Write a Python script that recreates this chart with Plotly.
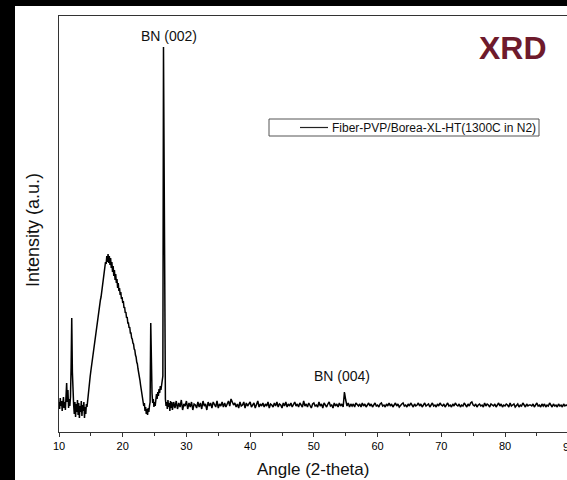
import numpy as np
import plotly.graph_objects as go

# ---- data: XRD scan (counts, arbitrary units) ----
# Segment A: 10.0 - 27.9 deg, step 0.1 (one row per degree)
seg_a_start = 10.0
seg_a_step = 0.1
seg_a_rows = [
    [300, 230, 340, 260, 310, 210, 280, 350, 240, 300],   # 10
    [220, 330, 490, 300, 420, 240, 330, 260, 350, 650],   # 11
    [1140, 600, 330, 270, 180, 300, 150, 280, 200, 320],  # 12
    [170, 290, 140, 260, 200, 310, 160, 270, 210, 300],   # 13
    [140, 250, 180, 280, 250, 330, 410, 460, 520, 560],   # 14
    [610, 660, 700, 760, 800, 850, 900, 940, 1000, 1040], # 15
    [1090, 1130, 1180, 1230, 1260, 1320, 1350, 1410, 1450, 1500],  # 16
    [1540, 1600, 1640, 1700, 1680, 1760, 1700, 1780, 1690, 1760],  # 17
    [1670, 1740, 1640, 1700, 1600, 1660, 1560, 1620, 1520, 1580],  # 18
    [1490, 1530, 1440, 1490, 1410, 1440, 1370, 1400, 1330, 1350],  # 19
    [1290, 1310, 1240, 1250, 1190, 1200, 1140, 1150, 1090, 1090],  # 20
    [1040, 1050, 990, 990, 940, 930, 890, 880, 830, 820],          # 21
    [770, 750, 700, 680, 630, 600, 560, 520, 470, 430],            # 22
    [390, 340, 310, 260, 290, 210, 250, 180, 230, 170],            # 23
    [240, 200, 260, 300, 1090, 480, 390, 290, 330, 250],           # 24
    [300, 260, 340, 380, 330, 400, 360, 430, 390, 460],            # 25
    [420, 470, 500, 560, 3850, 2470, 700, 330, 260, 300],          # 26
    [230, 320, 250, 290, 210, 310, 240, 300, 220, 290],            # 27
]
# Segment B: 28.0 - 90.0 deg, step 0.2 (one row per 2 degrees)
seg_b_start = 28.0
seg_b_step = 0.2
seg_b_rows = [
    [300, 240, 310, 230, 290, 250, 320, 220, 280, 260],  # 28
    [310, 230, 290, 250, 300, 220, 280, 270, 240, 300],  # 30
    [250, 290, 230, 310, 260, 280, 220, 300, 260, 290],  # 32
    [240, 300, 270, 250, 310, 240, 280, 260, 300, 250],  # 34
    [290, 250, 280, 310, 260, 330, 300, 270, 290, 250],  # 36
    [280, 240, 300, 260, 270, 300, 240, 290, 260, 280],  # 38
    [300, 250, 270, 290, 240, 280, 310, 250, 280, 260],  # 40
    [290, 250, 280, 260, 300, 240, 280, 270, 250, 290],  # 42
    [260, 300, 250, 280, 270, 240, 290, 260, 300, 250],  # 44
    [280, 260, 290, 250, 270, 300, 260, 280, 250, 290],  # 46
    [270, 250, 310, 260, 280, 250, 290, 270, 240, 280],  # 48
    [290, 260, 270, 250, 300, 260, 280, 240, 290, 270],  # 50
    [250, 280, 300, 260, 270, 240, 290, 260, 280, 250],  # 52
    [290, 260, 280, 250, 400, 320, 260, 290, 250, 280],  # 54
    [260, 280, 250, 290, 270, 260, 280, 250, 290, 260],  # 56
    [280, 250, 270, 290, 260, 280, 250, 270, 290, 260],  # 58
    [270, 250, 280, 290, 260, 270, 250, 280, 260, 290],  # 60
    [260, 280, 250, 270, 290, 260, 280, 250, 270, 280],  # 62
    [290, 260, 270, 250, 280, 260, 290, 270, 250, 280],  # 64
    [260, 270, 290, 260, 280, 250, 270, 290, 260, 270],  # 66
    [280, 250, 270, 290, 260, 270, 250, 280, 260, 290],  # 68
    [270, 260, 280, 250, 270, 290, 260, 270, 250, 280],  # 70
    [260, 290, 270, 260, 280, 250, 270, 260, 290, 270],  # 72
    [250, 280, 260, 290, 300, 270, 260, 280, 250, 270],  # 74
    [280, 260, 270, 250, 290, 260, 280, 270, 250, 280],  # 76
    [270, 260, 280, 250, 270, 290, 260, 280, 250, 270],  # 78
    [260, 280, 270, 250, 290, 260, 270, 280, 250, 270],  # 80
    [280, 250, 270, 260, 290, 270, 250, 280, 260, 270],  # 82
    [270, 260, 280, 250, 270, 290, 260, 270, 250, 280],  # 84
    [260, 280, 250, 270, 260, 290, 270, 250, 280, 260],  # 86
    [270, 250, 280, 260, 270, 250, 280, 260, 270, 260],  # 88
    [260],                                               # 90
]

series_name = "Fiber-PVP/Borea-XL-HT(1300C in N2)"
x_tick_vals = [10, 20, 30, 40, 50, 60, 70, 80, 90]
x_range = [10, 89.73]
y_range = [0, 4160]

# ---- assemble ----
ya = [v for row in seg_a_rows for v in row]
yb = [v for row in seg_b_rows for v in row]
xa = [round(seg_a_start + seg_a_step * i, 2) for i in range(len(ya))]
xb = [round(seg_b_start + seg_b_step * i, 2) for i in range(len(yb))]
angle = xa + xb
counts = ya + yb

FONT = "Arial, 'Liberation Sans', sans-serif"

fig = go.Figure()
fig.add_trace(go.Scatter(x=angle, y=counts, mode="lines", name=series_name,
                         line=dict(color="#000000", width=1.5), showlegend=False))

L, R, T, B = 59, 0, 16, 48
W, H = 567, 480
pw, ph = W - L - R, H - T - B

def px(xp):
    return (xp - L) / pw

def py(yp):
    return (H - B - yp) / ph

fig.update_layout(
    template="none",
    width=W, height=H,
    margin=dict(l=L, r=R, t=T, b=B, pad=0),
    paper_bgcolor="white", plot_bgcolor="white",
    font=dict(family=FONT, color="#111"),
    xaxis=dict(range=x_range, tickvals=x_tick_vals, ticks="outside", ticklen=4,
               tickwidth=1, tickcolor="#333", showline=True, linecolor="#333",
               linewidth=1, mirror=True, showgrid=False, zeroline=False,
               tickfont=dict(size=11, color="#000", family=FONT),
               minor=dict(dtick=5, tick0=5, ticks="outside", ticklen=3,
                          tickcolor="#333", showgrid=False)),
    yaxis=dict(range=y_range, showticklabels=False, ticks="", showline=True,
               linecolor="#333", linewidth=1, mirror=False, showgrid=False,
               zeroline=False),
    shapes=[
        # black page surround
        dict(type="rect", xref="paper", yref="paper", x0=px(0), x1=px(15),
             y0=py(H), y1=py(0), fillcolor="black", line=dict(width=0), layer="above"),
        dict(type="rect", xref="paper", yref="paper", x0=px(0), x1=px(W + 5),
             y0=py(6), y1=py(0), fillcolor="black", line=dict(width=0), layer="above"),
        # legend box
        dict(type="rect", xref="paper", yref="paper", x0=px(269), x1=px(539),
             y0=py(136), y1=py(119), fillcolor="white",
             line=dict(color="#555", width=1), layer="above"),
        dict(type="line", xref="paper", yref="paper", x0=px(300), x1=px(328),
             y0=py(127.5), y1=py(127.5), line=dict(color="#222", width=1.2), layer="above"),
    ],
    annotations=[
        dict(text=series_name, xref="paper", yref="paper", x=px(330), y=py(127.5),
             xanchor="left", yanchor="middle", showarrow=False,
             font=dict(size=12, color="#111")),
        dict(text="<b>XRD</b>", xref="paper", yref="paper", x=px(513), y=py(48),
             xanchor="center", yanchor="middle", showarrow=False,
             font=dict(size=32, color="#6e1a2c", family=FONT)),
        dict(text="BN (002)", xref="x", yref="y", x=27.2, y=3960,
             xanchor="center", yanchor="middle", showarrow=False,
             font=dict(size=14, color="#111")),
        dict(text="BN (004)", xref="x", yref="y", x=54.4, y=560,
             xanchor="center", yanchor="middle", showarrow=False,
             font=dict(size=14, color="#111")),
        dict(text="Angle (2-theta)", xref="paper", yref="paper", x=px(313), y=py(470),
             xanchor="center", yanchor="middle", showarrow=False,
             font=dict(size=17, color="#111")),
        dict(text="Intensity (a.u.)", xref="paper", yref="paper", x=px(33), y=py(230),
             xanchor="center", yanchor="middle", textangle=-90, showarrow=False,
             font=dict(size=18, color="#111")),
        dict(text="90", xref="paper", yref="paper", x=px(568.5), y=py(447),
             xanchor="center", yanchor="middle", showarrow=False,
             font=dict(size=11, color="#000")),
    ],
)

fig.write_html("out.html", config={"displayModeBar": False, "staticPlot": True},
               post_script="document.body.style.margin='0px';document.body.style.overflow='hidden';")
